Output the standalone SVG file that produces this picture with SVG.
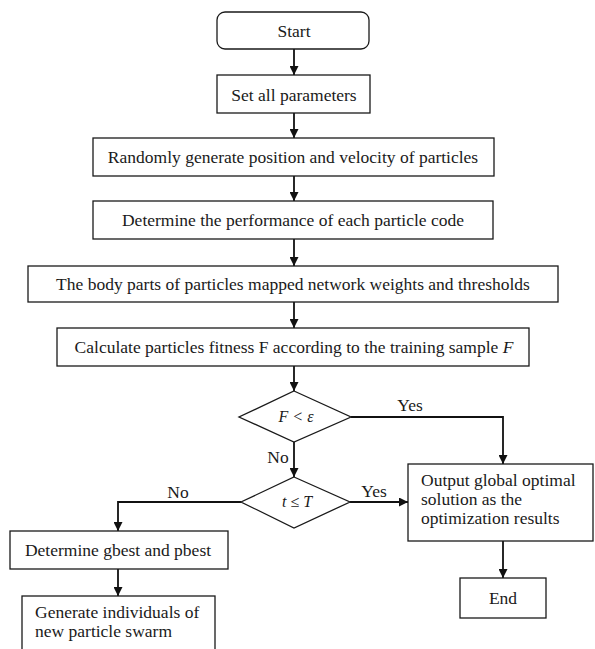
<svg xmlns="http://www.w3.org/2000/svg" width="595" height="649" viewBox="0 0 595 649">
  <style>
    .box { fill: #ffffff; stroke: #1a1a1a; stroke-width: 1.3; }
    .t { font-family: "Liberation Serif", "Times New Roman", serif; font-size: 17.5px; fill: #1a1a1a; }
    .c { text-anchor: middle; }
    .m { font-style: italic; font-size: 16px; }
    .line { fill: none; stroke: #111111; stroke-width: 1.8; }
  </style>
  <defs>
    <marker id="arr" viewBox="0 0 10 10" refX="10" refY="5" markerWidth="9" markerHeight="9" markerUnits="userSpaceOnUse" orient="auto">
      <path d="M0,0 L10,5 L0,10 Z" fill="#111111"/>
    </marker>
  </defs>
  <rect width="595" height="649" fill="#ffffff"/>

  <g id="connectors">
    <line class="line" x1="294" y1="49" x2="294" y2="75" marker-end="url(#arr)"/>
    <line class="line" x1="294" y1="113" x2="294" y2="138" marker-end="url(#arr)"/>
    <line class="line" x1="294" y1="176" x2="294" y2="201" marker-end="url(#arr)"/>
    <line class="line" x1="294" y1="239" x2="294" y2="266" marker-end="url(#arr)"/>
    <line class="line" x1="294" y1="302" x2="294" y2="328" marker-end="url(#arr)"/>
    <line class="line" x1="294" y1="366" x2="294" y2="391" marker-end="url(#arr)"/>
    <line class="line" x1="294" y1="442" x2="294" y2="477" marker-end="url(#arr)"/>
    <polyline class="line" points="351,417 503,417 503,464" marker-end="url(#arr)"/>
    <line class="line" x1="350" y1="502" x2="408" y2="502" marker-end="url(#arr)"/>
    <polyline class="line" points="241,502 118,502 118,531" marker-end="url(#arr)"/>
    <line class="line" x1="503" y1="541" x2="503" y2="578" marker-end="url(#arr)"/>
    <line class="line" x1="118" y1="569" x2="118" y2="596" marker-end="url(#arr)"/>
    <text class="t c" x="410" y="411">Yes</text>
    <text class="t c" x="278" y="463">No</text>
    <text class="t c" x="374" y="497">Yes</text>
    <text class="t c" x="178" y="498">No</text>
  </g>

  <g id="start">
    <rect class="box" x="217" y="12" width="152" height="37" rx="8"/>
    <text class="t c" x="294" y="37">Start</text>
  </g>
  <g id="set-params">
    <rect class="box" x="217" y="75" width="153" height="38"/>
    <text class="t c" x="294" y="101">Set all parameters</text>
  </g>
  <g id="random-init">
    <rect class="box" x="93" y="138" width="401" height="38"/>
    <text class="t c" x="293" y="163">Randomly generate position and velocity of particles</text>
  </g>
  <g id="determine-perf">
    <rect class="box" x="93" y="201" width="400" height="38"/>
    <text class="t c" x="293" y="226">Determine the performance of each particle code</text>
  </g>
  <g id="body-parts">
    <rect class="box" x="28" y="266" width="530" height="36"/>
    <text class="t c" x="293" y="290">The body parts of particles mapped network weights and thresholds</text>
  </g>
  <g id="calc-fitness">
    <rect class="box" x="57" y="328" width="472" height="38"/>
    <text class="t c" x="294" y="353">Calculate particles fitness F according to the training sample <tspan font-style="italic">F</tspan></text>
  </g>
  <g id="cond-fitness">
    <polygon class="box" points="294,391 351,417 294,442 239,417"/>
    <text class="t c m" x="296" y="422">F &lt; ε</text>
  </g>
  <g id="cond-iter">
    <polygon class="box" points="294,477 350,502 294,528 241,502"/>
    <text class="t c m" x="297" y="507">t ≤ T</text>
  </g>
  <g id="output">
    <rect class="box" x="408" y="464" width="185" height="77"/>
    <text class="t" x="421" y="486">Output global optimal</text>
    <text class="t" x="421" y="505">solution as the</text>
    <text class="t" x="421" y="524">optimization results</text>
  </g>
  <g id="end">
    <rect class="box" x="460" y="578" width="86" height="40"/>
    <text class="t c" x="503" y="604">End</text>
  </g>
  <g id="gbest-pbest">
    <rect class="box" x="10" y="531" width="218" height="38"/>
    <text class="t c" x="118" y="556">Determine gbest and pbest</text>
  </g>
  <g id="generate">
    <rect class="box" x="22" y="596" width="193" height="70"/>
    <text class="t" x="35" y="618">Generate individuals of</text>
    <text class="t" x="35" y="637">new particle swarm</text>
  </g>
</svg>
